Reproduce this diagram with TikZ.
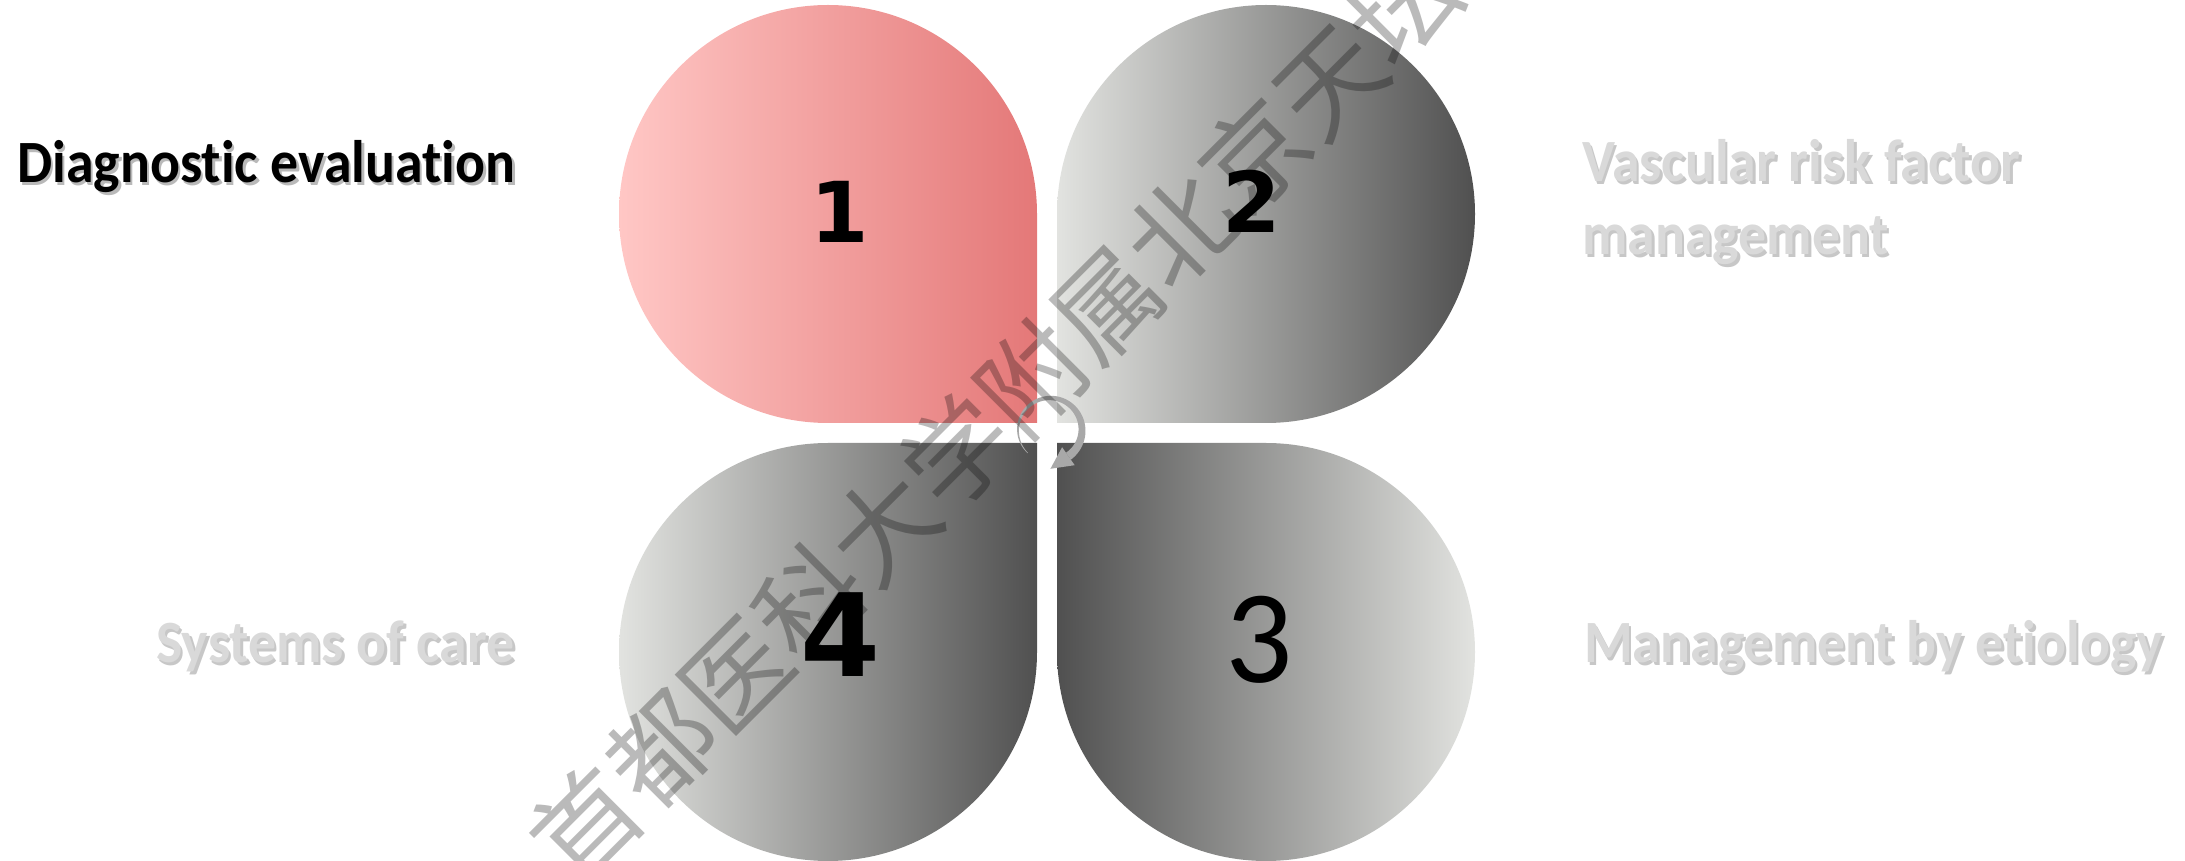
\documentclass[tikz,border=0pt]{standalone}
\usepackage{fontspec}
\usepackage{graphicx}
\newfontfamily\labfont{Carlito}[RawFeature={-liga;-calt}]
\newfontfamily\digfont{DejaVu Sans}
\newfontfamily\cjkfont{Noto Sans CJK SC}
\definecolor{pinkL}{HTML}{FFC7C5}
\definecolor{pinkR}{HTML}{E47878}
\definecolor{grayL}{HTML}{E2E3E0}
\definecolor{grayD}{HTML}{505050}
\definecolor{labgray}{HTML}{D9D9D9}
\definecolor{arrowgray}{HTML}{A8A8A8}
\begin{document}
\begin{tikzpicture}[x=1pt,y=1pt,
  labtext/.style={inner sep=0pt, font=\labfont\bfseries\fontsize{60}{73}\selectfont},
  shadowtext/.style={labtext, text opacity=0.55},
  digbold/.style={inner sep=0pt, anchor=base, text=black},
]
\useasboundingbox (0,0) rectangle (2185,860);
% petals
\path[left color=pinkL, right color=pinkR] (1037,437) -- (828,437) arc[start angle=270, end angle=90, radius=209] arc[start angle=90, end angle=0, radius=209] -- cycle;
\path[left color=grayL, right color=grayD] (1057,437) -- (1057,646) arc[start angle=180, end angle=-90, radius=209] -- cycle;
\path[left color=grayD, right color=grayL] (1057,417) -- (1266,417) arc[start angle=90, end angle=-180, radius=209] -- cycle;
\path[left color=grayL, right color=grayD] (1037,417) -- (1037,208) arc[start angle=0, end angle=-270, radius=209] -- cycle;
% numbers
\node[digbold, font=\digfont\bfseries\fontsize{84}{84}\selectfont] (n1) at (840,617) {1};
\node[digbold, font=\digfont\bfseries\fontsize{84}{84}\selectfont] (n2) at (1252,627) {2};
\node[digbold, font=\labfont\fontsize{133}{133}\selectfont] (n3) at (1259,177) {3};
\node[digbold, font=\digfont\bfseries\fontsize{115}{115}\selectfont] (n4) at (840,183) {4};
% circular arrow
\fill[arrowgray] plot[domain=226:-55, samples=80] ({1050+(32+(0.5+8*(226-\x)/281)/2)*cos(\x)}, {430+(32+(0.5+8*(226-\x)/281)/2)*sin(\x)}) -- plot[domain=-55:226, samples=80] ({1050+(32-(0.5+8*(226-\x)/281)/2)*cos(\x)}, {430+(32-(0.5+8*(226-\x)/281)/2)*sin(\x)}) -- cycle;
\fill[arrowgray] (1074.7,394.8) -- (1050.4,391.2) -- (1062.1,412.8) -- cycle;
% labels with shadows
\node[shadowtext, text=gray, anchor=base west] at (19.5,674) {\scalebox{0.93}[1]{Diagnostic evaluation}};
\node[labtext, text=black, anchor=base west] (l1) at (17,677) {\scalebox{0.93}[1]{Diagnostic evaluation}};
\node[shadowtext, text=gray!80, anchor=base west] at (1584.5,675) {\scalebox{0.93}[1]{Vascular risk factor}};
\node[labtext, text=labgray, anchor=base west] (l2a) at (1582,678) {\scalebox{0.93}[1]{Vascular risk factor}};
\node[shadowtext, text=gray!80, anchor=base west] at (1584.5,602) {\scalebox{0.93}[1]{management}};
\node[labtext, text=labgray, anchor=base west] (l2b) at (1582,605) {\scalebox{0.93}[1]{management}};
\node[shadowtext, text=gray!80, anchor=base west] at (1586.5,194) {\scalebox{0.93}[1]{Management by etiology}};
\node[labtext, text=labgray, anchor=base west] (l3) at (1584,197) {\scalebox{0.93}[1]{Management by etiology}};
\node[shadowtext, text=gray!80, anchor=base east] at (517.5,194) {\scalebox{0.93}[1]{Systems of care}};
\node[labtext, text=labgray, anchor=base east] (l4) at (515,197) {\scalebox{0.93}[1]{Systems of care}};
% watermark
\begin{scope}
\clip (0,0) rectangle (2185,860);
\node[rotate=45, inner sep=0pt, text=black, text opacity=0.27, font=\cjkfont\fontsize{105}{105}\selectfont] (wm) at (1069,519) {首都医科大学附属北京天坛医院};
\end{scope}
\end{tikzpicture}
\end{document}
